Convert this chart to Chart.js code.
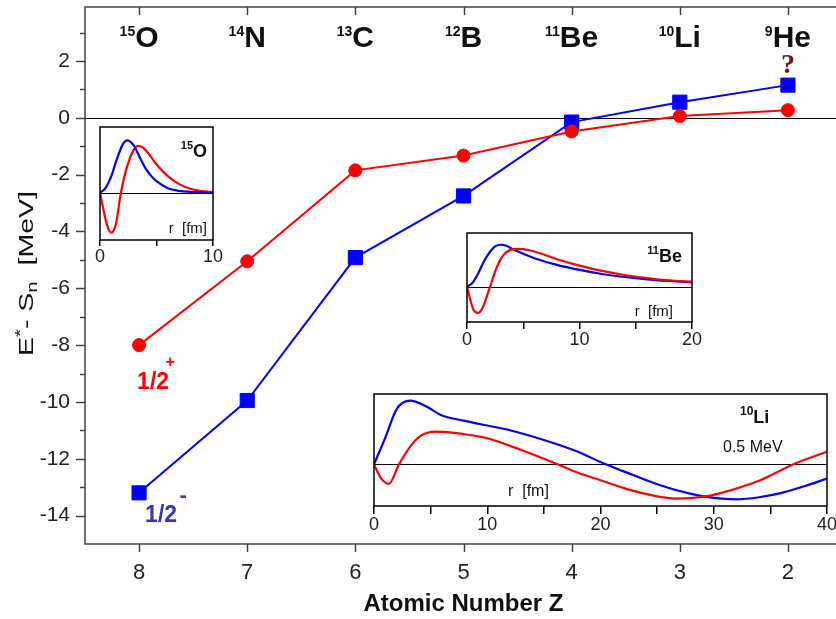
<!DOCTYPE html>
<html>
<head>
<meta charset="utf-8">
<script src="https://cdn.jsdelivr.net/npm/chart.js@4.4.1/dist/chart.umd.min.js"></script>
<style>
  html, body { margin: 0; padding: 0; background: #fff; overflow: hidden; }
  #wrap { position: relative; width: 836px; height: 619px; overflow: hidden; }
  canvas { position: absolute; }
</style>
</head>
<body>
<div id="wrap">
  <canvas id="main" width="860" height="619" style="left:0;top:0"></canvas>
</div>
<script>
// main chart data
var zNumbers = [8, 7, 6, 5, 4, 3, 2];
var massNumbers = ['15', '14', '13', '12', '11', '10', '9'];
var elementSymbols = ['O', 'N', 'C', 'B', 'Be', 'Li', 'He'];
var statePlus = [-8.0, -5.05, -1.85, -1.33, -0.48, 0.06, 0.27];
var stateMinus = [-13.2, -9.95, -4.92, -2.75, -0.15, 0.55, 1.15];
var yTickValues = [-14, -12, -10, -8, -6, -4, -2, 0, 2];

// inset wave functions
var o15BlueR = [0, 0.5, 1, 1.5, 2, 2.4, 3, 3.5, 4, 4.6, 5, 6, 7, 8, 10];
var o15Blue = [0, 0.15, 0.5, 1.02, 1.45, 1.58, 1.42, 1.08, 0.75, 0.48, 0.35, 0.14, 0.06, 0.03, 0.0];
var o15RedR = [0, 0.3, 0.6, 1, 1.4, 1.85, 2.2, 2.6, 3, 3.4, 4, 5, 6, 7, 8, 9, 10];
var o15Red = [0, -0.5, -0.95, -1.2, -0.95, 0, 0.55, 1.0, 1.3, 1.41, 1.3, 0.85, 0.5, 0.26, 0.12, 0.05, 0.02];

var be11BlueR = [0, 0.5, 1, 1.5, 2, 2.5, 3, 3.5, 4, 5, 6, 8, 10, 12, 14, 16, 18, 20];
var be11Blue = [0, 0.12, 0.4, 0.75, 1.02, 1.2, 1.25, 1.22, 1.13, 0.98, 0.85, 0.65, 0.5, 0.38, 0.29, 0.22, 0.17, 0.13];
var be11RedR = [0, 0.3, 0.6, 1, 1.4, 1.8, 2.1, 2.5, 3, 3.5, 4.3, 5, 6, 8, 10, 12, 14, 16, 18, 20];
var be11Red = [0, -0.4, -0.7, -0.78, -0.62, -0.25, 0.05, 0.45, 0.83, 1.03, 1.13, 1.12, 1.05, 0.82, 0.63, 0.47, 0.35, 0.26, 0.19, 0.15];

var li10BlueR = [0, 1, 2, 3.2, 4.5, 6, 8, 10, 12, 15, 18, 20, 22, 25, 28, 30, 32, 34, 36, 38, 40];
var li10Blue = [0, 0.8, 1.65, 1.9, 1.75, 1.46, 1.3, 1.16, 1.02, 0.73, 0.38, 0.07, -0.2, -0.59, -0.88, -1.0, -1.04, -0.98, -0.85, -0.65, -0.42];
var li10RedR = [0, 0.6, 1.3, 2.2, 3.2, 4.1, 5.5, 8, 10, 13, 16.1, 18, 20, 22, 24, 26.7, 29.7, 31, 34.1, 37, 40];
var li10Red = [0, -0.4, -0.58, 0, 0.53, 0.85, 0.98, 0.9, 0.78, 0.43, 0.02, -0.25, -0.47, -0.7, -0.88, -1.02, -0.93, -0.82, -0.47, 0, 0.38];

var FONT = "'Liberation Sans', Arial, sans-serif";
Chart.defaults.font.family = FONT;
Chart.defaults.color = '#222';

function pairs(xs, ys) {
    return xs.map(function (x, i) { return { x: x, y: ys[i] }; });
}

function drawRich(ctx, parts, x, y, align) {
    // parts: [text, font, dy]
    var total = 0;
    parts.forEach(function (p) { ctx.font = p[1]; total += ctx.measureText(p[0]).width; });
    var cx = align === 'center' ? x - total / 2 : (align === 'right' ? x - total : x);
    ctx.textAlign = 'left';
    ctx.textBaseline = 'alphabetic';
    parts.forEach(function (p) {
        ctx.font = p[1];
        ctx.fillText(p[0], cx, y + (p[2] || 0));
        cx += ctx.measureText(p[0]).width;
    });
    return total;
}

var mainDeco = {
    id: 'mainDeco',
    beforeDraw: function (chart) {
        var ctx = chart.ctx;
        ctx.save();
        ctx.fillStyle = '#fff';
        ctx.fillRect(0, 0, chart.width, chart.height);
        ctx.restore();
    },
    beforeDatasetsDraw: function (chart) {
        var ctx = chart.ctx, a = chart.chartArea;
        var y0 = Math.round(chart.scales.y.getPixelForValue(0)) + 0.5;
        ctx.save();
        ctx.strokeStyle = '#000';
        ctx.lineWidth = 1;
        ctx.beginPath();
        ctx.moveTo(a.left, y0);
        ctx.lineTo(a.right, y0);
        ctx.stroke();
        ctx.restore();
    },
    afterDraw: function (chart) {
        var ctx = chart.ctx, a = chart.chartArea;
        var xs = chart.scales.x, ys = chart.scales.y;
        ctx.save();
        ctx.strokeStyle = '#444';
        ctx.lineWidth = 1.5;
        ctx.strokeRect(a.left, a.top, a.right - a.left, a.bottom - a.top);

        // ticks
        ctx.beginPath();
        for (var v = -14; v <= 3; v++) {
            var py = Math.round(ys.getPixelForValue(v)) + 0.5;
            var len = v % 2 === 0 ? 9 : 5;
            ctx.moveTo(a.left - len, py);
            ctx.lineTo(a.left, py);
        }
        zNumbers.forEach(function (z) {
            var px = Math.round(xs.getPixelForValue(z)) + 0.5;
            ctx.moveTo(px, a.bottom);
            ctx.lineTo(px, a.bottom + 8);
            ctx.moveTo(px, a.top);
            ctx.lineTo(px, a.top + 8);
        });
        ctx.stroke();

        // element names on top
        ctx.fillStyle = '#111';
        zNumbers.forEach(function (z, i) {
            var px = xs.getPixelForValue(z);
            drawRich(ctx, [
                [massNumbers[i], 'bold 14px ' + FONT, -11],
                [elementSymbols[i], 'bold 30px ' + FONT, 0]
            ], px, 47, 'center');
        });

        // question mark above 9He
        ctx.fillStyle = '#7b1113';
        ctx.font = "bold 28px 'Liberation Serif', 'DejaVu Serif', serif";
        ctx.textAlign = 'center';
        ctx.textBaseline = 'alphabetic';
        ctx.fillText('?', xs.getPixelForValue(2), 73);

        // state labels
        var pr = chart.getDatasetMeta(0).data[0];
        var pb = chart.getDatasetMeta(1).data[0];
        ctx.fillStyle = '#ff0000';
        ctx.font = 'bold 23px ' + FONT;
        ctx.textAlign = 'center';
        ctx.fillText('1/2', pr.x + 14, pr.y + 44);
        ctx.font = 'bold 16px ' + FONT;
        ctx.fillText('+', pr.x + 31, pr.y + 22);
        ctx.fillStyle = '#3434c8';
        ctx.font = 'bold 23px ' + FONT;
        ctx.fillText('1/2', pb.x + 22, pb.y + 29);
        ctx.font = 'bold 22px ' + FONT;
        ctx.fillText('-', pb.x + 44, pb.y + 9);

        // y title with super/subscript
        ctx.fillStyle = '#111';
        ctx.translate(26, (a.top + a.bottom) / 2 - 2);
        ctx.rotate(-Math.PI / 2);
        var parts = [
            ['E', '21px ' + FONT, 0],
            ['*', '15px ' + FONT, -8],
            ['- S', '21px ' + FONT, 0],
            ['n', '15px ' + FONT, 4],
            ['  [MeV]', '21px ' + FONT, 0]
        ];
        var total = 0;
        parts.forEach(function (p) { ctx.font = p[1]; total += ctx.measureText(p[0]).width; });
        ctx.scale(165 / total, 1);
        drawRich(ctx, parts, 0, 7, 'center');
        ctx.restore();
    }
};

new Chart(document.getElementById('main'), {
    type: 'line',
    data: {
        datasets: [{
            data: pairs(zNumbers, statePlus),
            borderColor: '#ff0000',
            backgroundColor: '#ff0000',
            borderWidth: 2,
            pointStyle: 'circle',
            pointRadius: 6.5,
            pointBorderWidth: 1
        }, {
            data: pairs(zNumbers, stateMinus),
            borderColor: '#0000ff',
            backgroundColor: '#0000ff',
            borderWidth: 2,
            pointStyle: 'rect',
            pointRadius: 10,
            pointBorderWidth: 1
        }]
    },
    options: {
        responsive: false,
        animation: false,
        devicePixelRatio: 1,
        layout: { autoPadding: false, padding: { left: 0, right: 18, top: 7, bottom: 0 } },
        plugins: { legend: { display: false }, tooltip: { enabled: false } },
        scales: {
            x: {
                type: 'linear',
                reverse: true,
                min: 1.5,
                max: 8.5,
                grid: { display: false, drawTicks: false },
                border: { display: false },
                afterBuildTicks: function (scale) {
                    scale.ticks = zNumbers.map(function (z) { return { value: z }; });
                },
                ticks: {
                    autoSkip: false,
                    maxRotation: 0,
                    padding: 16,
                    font: { size: 22 },
                    color: '#222'
                },
                title: {
                    display: true,
                    text: 'Atomic Number Z',
                    font: { size: 24, weight: 'bold' },
                    color: '#111',
                    padding: { top: 4, bottom: 0 }
                },
                afterFit: function (scale) {
                    scale.height = 75;
                    scale.paddingLeft = 0;
                    scale.paddingRight = 0;
                }
            },
            y: {
                min: -15,
                max: 3.9,
                grid: { display: false, drawTicks: false },
                border: { display: false },
                afterBuildTicks: function (scale) {
                    scale.ticks = yTickValues.map(function (v) { return { value: v }; });
                },
                ticks: {
                    autoSkip: false,
                    padding: 15,
                    font: { size: 21 },
                    color: '#222'
                },
                afterFit: function (scale) {
                    scale.width = 85;
                    scale.paddingTop = 0;
                    scale.paddingBottom = 0;
                }
            }
        }
    },
    plugins: [mainDeco]
});

// insets
function buildInset(box, xMax, yMin, yMax, tickLen, series, drawTexts) {
    var padL = 14, padR = 16, padT = 2, bottomH = 32;
    var cv = document.createElement('canvas');
    cv.width = box.r - box.l + padL + padR;
    cv.height = box.b - box.t + padT + bottomH;
    cv.style.left = (box.l - padL) + 'px';
    cv.style.top = (box.t - padT) + 'px';
    document.getElementById('wrap').appendChild(cv);

    var deco = {
        id: 'insetDeco',
        beforeDraw: function (chart) {
            var a = chart.chartArea, ctx = chart.ctx;
            ctx.save();
            ctx.fillStyle = '#fff';
            ctx.fillRect(a.left, a.top, a.right - a.left, a.bottom - a.top);
            ctx.restore();
        },
        beforeDatasetsDraw: function (chart) {
            var a = chart.chartArea, ctx = chart.ctx;
            var y0 = Math.round(chart.scales.y.getPixelForValue(0)) + 0.5;
            ctx.save();
            ctx.strokeStyle = '#000';
            ctx.lineWidth = 1;
            ctx.beginPath();
            ctx.moveTo(a.left, y0);
            ctx.lineTo(a.right, y0);
            ctx.stroke();
            ctx.restore();
        },
        afterDraw: function (chart) {
            var a = chart.chartArea, ctx = chart.ctx;
            ctx.save();
            ctx.strokeStyle = '#000';
            ctx.lineWidth = 1.5;
            ctx.strokeRect(a.left, a.top, a.right - a.left, a.bottom - a.top);
            ctx.fillStyle = '#111';
            drawTexts(ctx, a);
            ctx.restore();
        }
    };

    new Chart(cv, {
        type: 'line',
        data: {
            datasets: series.map(function (s) {
                return {
                    data: pairs(s.r, s.v),
                    borderColor: s.color,
                    borderWidth: 2.2,
                    pointRadius: 0,
                    fill: false,
                    cubicInterpolationMode: 'monotone'
                };
            })
        },
        options: {
            responsive: false,
            animation: false,
            devicePixelRatio: 1,
            layout: { autoPadding: false, padding: { left: padL, right: padR, top: padT, bottom: 0 } },
            plugins: { legend: { display: false }, tooltip: { enabled: false } },
            scales: {
                x: {
                    type: 'linear',
                    min: 0,
                    max: xMax,
                    grid: { display: true, drawOnChartArea: false, drawTicks: true, tickLength: tickLen, color: '#000', lineWidth: 1.5 },
                    border: { display: false },
                    ticks: {
                        stepSize: 5,
                        autoSkip: false,
                        maxRotation: 0,
                        padding: 0,
                        font: { size: 18 },
                        color: '#222',
                        callback: function (v) { return v % 10 === 0 ? String(v) : ''; }
                    },
                    afterFit: function (scale) { scale.height = bottomH; }
                },
                y: { display: false, min: yMin, max: yMax }
            }
        },
        plugins: [deco]
    });
}

buildInset({ l: 100, r: 213, t: 127, b: 240 }, 10, -1.42, 1.98, 6, [
    { r: o15BlueR, v: o15Blue, color: '#0000ff' },
    { r: o15RedR, v: o15Red, color: '#ff0000' }
], function (ctx, a) {
    drawRich(ctx, [['15', 'bold 11px ' + FONT, -8], ['O', 'bold 18px ' + FONT, 0]], a.right - 6, a.top + 30, 'right');
    ctx.font = '15px ' + FONT;
    ctx.textAlign = 'right';
    ctx.fillText('r  [fm]', a.right - 6, a.bottom - 7);
});

buildInset({ l: 467, r: 692, t: 233, b: 322 }, 20, -1.05, 1.6, 7, [
    { r: be11RedR, v: be11Red, color: '#ff0000' },
    { r: be11BlueR, v: be11Blue, color: '#0000ff' }
], function (ctx, a) {
    drawRich(ctx, [['11', 'bold 11px ' + FONT, -8], ['Be', 'bold 18px ' + FONT, 0]], a.right - 10, a.top + 29, 'right');
    ctx.font = '15px ' + FONT;
    ctx.textAlign = 'right';
    ctx.fillText('r  [fm]', a.right - 19, a.bottom - 6);
});

buildInset({ l: 374, r: 827, t: 394, b: 506 }, 40, -1.24, 2.1, 8, [
    { r: li10RedR, v: li10Red, color: '#ff0000' },
    { r: li10BlueR, v: li10Blue, color: '#0000ff' }
], function (ctx, a) {
    drawRich(ctx, [['10', 'bold 12px ' + FONT, -8], ['Li', 'bold 18px ' + FONT, 0]], a.left + 366, a.top + 29, 'left');
    ctx.font = '16px ' + FONT;
    ctx.textAlign = 'left';
    ctx.fillText('0.5 MeV', a.left + 349, a.top + 58);
    ctx.fillText('r  [fm]', a.left + 134, a.bottom - 10);
});
</script>
</body>
</html>
